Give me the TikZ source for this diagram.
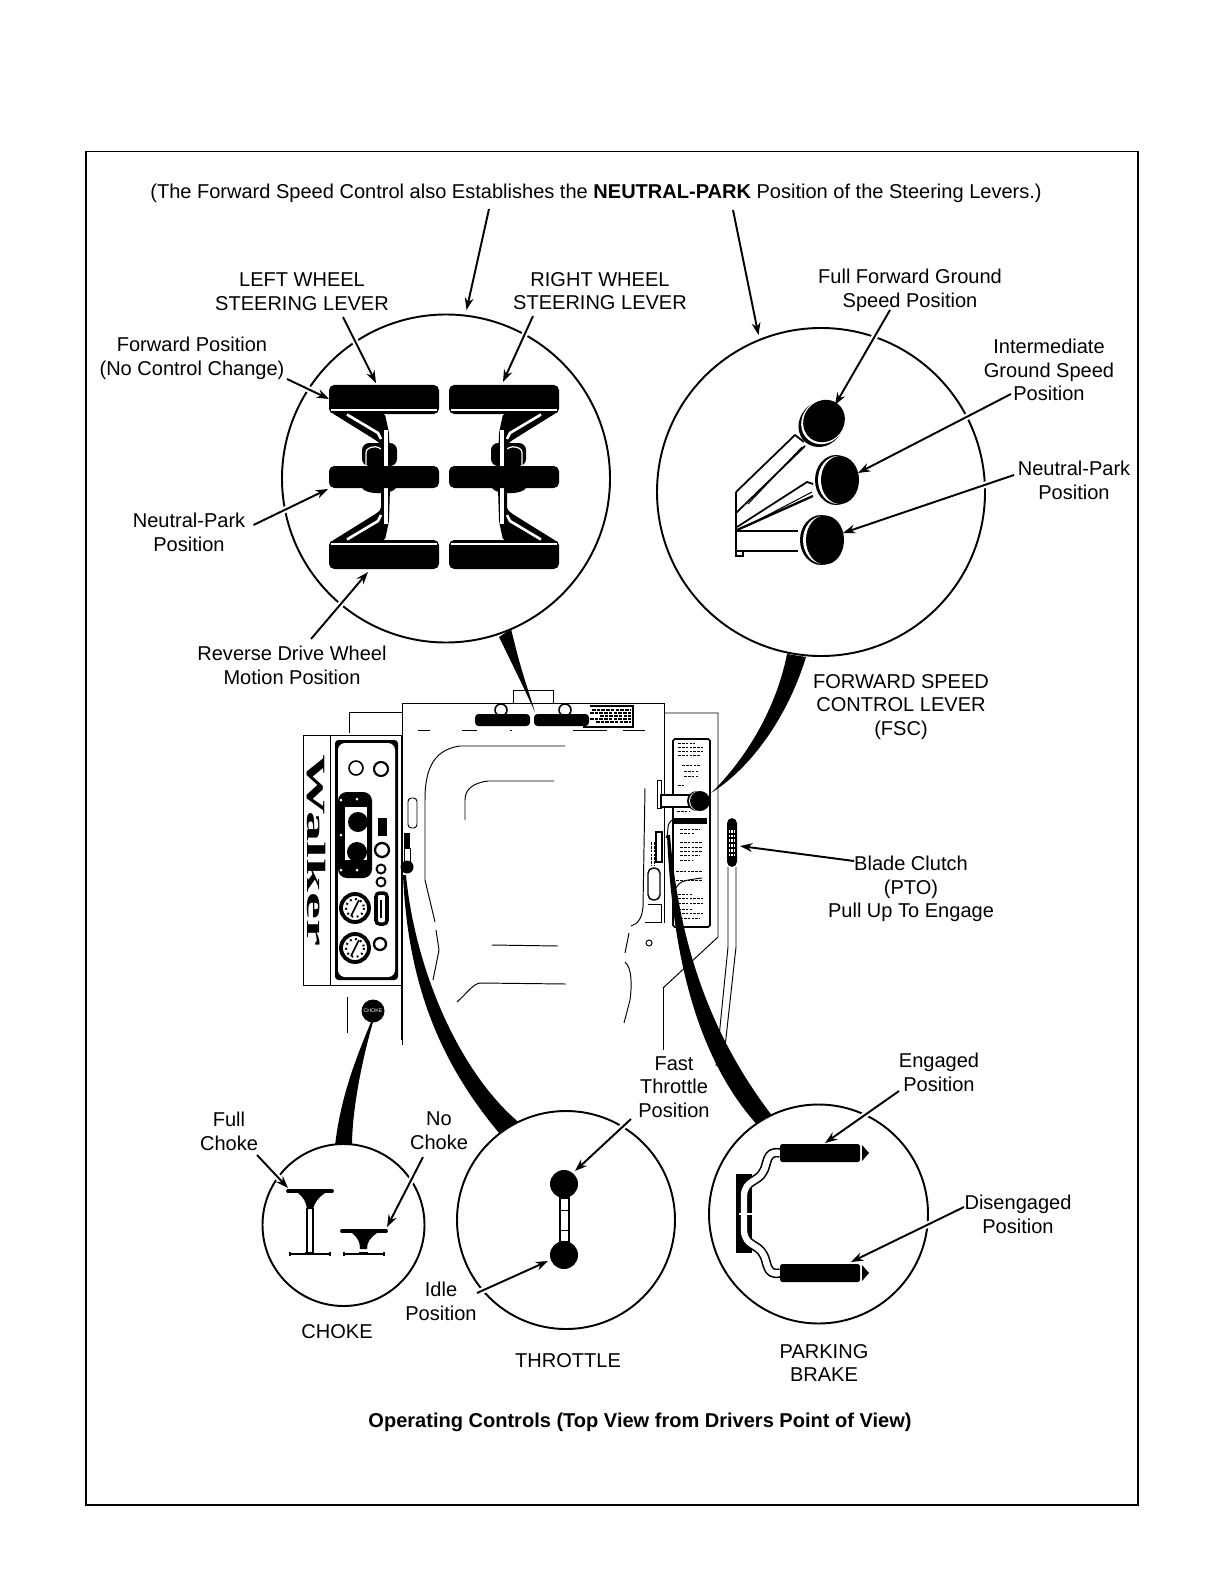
\documentclass[tikz,border=0pt]{standalone}
\usepackage{fontspec}
\setmainfont{Liberation Sans}
\newfontfamily\logofont{Liberation Serif}
\usetikzlibrary{arrows.meta}
\tikzset{
  lbl/.style={align=center, inner sep=0pt, font=\fontsize{11.4}{13.5}\selectfont},
  ring/.style={draw, fill=white, line width=1.1pt},
  callout/.style={line width=1.1pt, -{Stealth[length=7pt,width=5pt]}, preaction={draw=white, line width=3.6pt, -}},
  thin line/.style={line width=0.55pt},
  fine print/.style={line width=0.45pt, dash pattern=on 1.5pt off 0.7pt},
  tail/.style={fill=black}
}
\begin{document}
\begin{tikzpicture}[x=0.02cm, y=-0.02cm]
    \useasboundingbox (0,0) rectangle (1224,1584);
    % Outer frame
    \draw[line width=0.6pt] (86,151.5) rectangle (1138,1505);

    % Mower body
    \draw[thin line] (402,1045) -- (402,703) -- (664,703) -- (664,923);
    \draw[thin line] (663,987) -- (663,1050);
    \draw[thin line] (349,733) -- (349,712) -- (402,712);
    \draw[thin line] (664,713) -- (718,713) -- (718,937) -- (663,988);
    \draw[thin line] (513,703) -- (513,690) -- (553,690) -- (553,703);
    \foreach \xa/\xb in {418/430, 462/477, 510/512, 573/607, 623/645}
        \draw[thin line] (\xa,730) -- (\xb,730);

    % Steering levers on the body
    \draw[line width=0.9pt] (501,710) circle [radius=6];
    \draw[line width=0.9pt] (565,710) circle [radius=6];
    \fill[rounded corners=2pt] (475,714) rectangle (530,726);
    \fill[rounded corners=2pt] (534,714) rectangle (589,726);
    \draw[line width=0.9pt] (583,727) -- (633,727) -- (633,706) -- (590,706);
    \foreach \yy/\xa in {710/592, 713/590, 716/600, 719/590, 722/596}
        \draw[line width=0.8pt, dash pattern=on 2pt off 0.7pt] (\xa,\yy) -- (631,\yy);

    % Seat lines
    \draw[thin line] (565,746) -- (460,746) .. controls (430,750) and (425,775) .. (425,800) -- (425,880) -- (435,922);
    \draw[thin line] (436,930) -- (439,950) -- (433,980);
    \draw[thin line] (554,781) -- (488,781) .. controls (472,783) and (465,790) .. (465,800) -- (465,820);
    \draw[thin line] (492,945) -- (558,946);
    \draw[thin line] (457,1002) .. controls (468,992) and (473,984) .. (480,983) -- (566,984);
    \draw[thin line] (645,788) -- (643,907) .. controls (642,918) and (638,924) .. (631,926);
    \draw[thin line] (629,933) -- (625,953);
    \draw[thin line] (625,962) .. controls (632,968) and (632,985) .. (630,1000) -- (624,1023);
    \draw[thin line] (649,943) circle [radius=3];
    \draw[thin line] (648,904) -- (661,904) -- (661,922) -- (645,922);

    % Dash panel
    \draw[thin line] (303,735) rectangle (401,985);
    \draw[thin line] (330,735) -- (330,985);
    \draw[thin line] (401,985) -- (401,1040);
    \draw[thin line] (347,997) -- (347,1033);
    \node[rotate=-90, inner sep=0pt, font=\logofont\bfseries\fontsize{15}{15}\selectfont] (logo) at (316,850) {\scalebox{2.3}[1]{Walker}};
    \fill[rounded corners=2pt] (335,740) rectangle (398,980);
    \fill[white, rounded corners=4pt] (338,743) rectangle (395,977);
    \fill[rounded corners=5pt] (338,792) rectangle (372,878);
    \fill[white] (345,807) rectangle (367,860);
    \fill (358,822) circle [radius=10];
    \fill (357,852) circle [radius=10];
    \foreach \px/\py in {341/800, 341/835, 357/799, 357/870, 341/870}
        \fill[white] (\px,\py) circle [radius=1.5];
    \draw[line width=0.9pt] (356,768) circle [radius=7];
    \draw[line width=1.2pt] (381,769) circle [radius=7];
    \fill (378,818) rectangle (387,836);
    \draw[line width=1.3pt] (382,850) circle [radius=7];
    \draw[line width=1.1pt] (381,869) circle [radius=4.5];
    \draw[line width=1.1pt] (381,882) circle [radius=4.5];
    \draw[line width=2pt, rounded corners=2pt] (376,893) rectangle (387,924);
    \draw[line width=1pt] (381,900) -- (381,918);
    \foreach \cy in {908,948} {
        \draw[line width=2.2pt] (355,\cy) circle [radius=14];
        \draw[line width=1pt] (351,\cy+8) -- (359,\cy-8);
        \draw[line width=1.2pt, dash pattern=on 1pt off 2pt] (355,\cy) circle [radius=9];
    }
    \draw[line width=1.3pt] (380,944) circle [radius=6];

    % Throttle on the body
    \draw[thin line, rounded corners=2pt] (408,798) rectangle (417,828);
    \fill (404,833) rectangle (410,848);
    \draw[thin line] (404,848) rectangle (410,863);

    % Forward speed lever on the body
    \draw[rounded corners=1pt, line width=0.9pt] (673,739) rectangle (710,927);
    \foreach \yy/\xa/\xb in {743/678/695, 747/678/703, 751/678/703, 755/678/700, 765/682/700, 771/684/698, 776/684/698, 785/678/684, 811/677/690, 829/680/700, 833/680/695, 842/680/702, 847/680/702, 851/680/702, 855/680/700, 860/680/692, 871/676/703, 880/676/703, 894/678/692, 898/678/703, 903/678/703, 909/678/692, 913/678/703, 918/680/700}
        \draw[fine print] (\xa,\yy) -- (\xb,\yy);
    \draw[thin line] (676,888) .. controls (680,880) and (688,880) .. (702,878);
    \fill (673,818) rectangle (707,824);
    \draw[thin line, fill=white] (657,780) rectangle (661,808);
    \draw[line width=0.9pt, fill=white] (661,795) rectangle (690,807);
    \fill (697,801) circle [radius=10];
    \fill[white] (699,801) circle [radius=10];
    \fill (700,801) circle [radius=10];

    % Parking brake on the body
    \draw[line width=0.8pt, rounded corners=3pt] (648,868) rectangle (660,900);
    \draw[line width=0.9pt] (656,832) rectangle (662,862);
    \draw[fine print] (651,842) -- (651,866) (654,842) -- (654,866);
    \draw[thin line] (666,838) .. controls (670,830) and (665,826) .. (672,820);

    % Blade clutch handle
    \draw[thin line] (728,867) -- (728,947) -- (718,1047) -- (716,1066);
    \draw[thin line] (736,867) -- (736,947) -- (725,1047);
    \fill[rounded corners=3pt] (727,818) rectangle (737,867);
    \foreach \xx in {729.5,732,734.5}
        \draw[white, line width=0.9pt, dash pattern=on 1.5pt off 1.2pt] (\xx,830) -- (\xx,857);

    % Choke knob on the body
    \fill (373,1011) circle [radius=11.5];
    \node[white, inner sep=0pt, font=\fontsize{3}{3}\selectfont] (chokeTag) at (373,1011) {CHOKE};

    % Tails from the detail circles to the body
    \fill[tail] (499,637) -- (511,629) .. controls (520,665) .. (535,712) .. controls (520,680) .. (499,637);
    \fill[tail] (787,654) .. controls (775,715) and (740,765) .. (711,793) .. controls (745,772) and (785,725) .. (806,657);
    \fill (407,867) circle [radius=6.5];
    \fill[tail] (403,875) .. controls (408,985) and (440,1065) .. (505,1140) -- (522,1125) .. controls (460,1075) and (415,970) .. (406,875);
    \fill[tail] (667,835) .. controls (672,950) and (695,1060) .. (762,1130) -- (777,1122) .. controls (720,1050) and (680,960) .. (670,835);
    \fill[tail] (371,1022) .. controls (355,1060) and (340,1100) .. (335,1146) -- (352,1146) .. controls (352,1110) and (362,1060) .. (373,1022);

    % Detail circles
    \draw[ring] (446,478.5) circle [radius=164];
    \draw[ring] (821,492) circle [radius=164];
    \draw[ring] (343.5,1225) circle [radius=81];
    \draw[ring] (566,1220) circle [radius=109];
    \draw[ring] (818.5,1214) circle [radius=109.5];

    % Arrow ends
    \coordinate (topA) at (489,209);    \coordinate (topB) at (466.5,310);
    \coordinate (topC) at (733,210);    \coordinate (topD) at (758.5,335);
    \coordinate (lwA) at (343,317);     \coordinate (lwB) at (376,383);
    \coordinate (rwA) at (533,316);     \coordinate (rwB) at (503,382);
    \coordinate (fpA) at (287,379);     \coordinate (fpB) at (329,399);
    \coordinate (npA) at (253.5,525);   \coordinate (npB) at (328,489);
    \coordinate (rvA) at (311,639);     \coordinate (rvB) at (368,572);
    \coordinate (ffA) at (890,310);     \coordinate (ffB) at (835,405);
    \coordinate (igA) at (1011,394);    \coordinate (igB) at (858,473);
    \coordinate (nrA) at (1014,475);    \coordinate (nrB) at (843,533);
    \coordinate (bcA) at (854,861);     \coordinate (bcB) at (740,846);
    \coordinate (fcA) at (257,1155);    \coordinate (fcB) at (288,1188);
    \coordinate (ncA) at (423,1157);    \coordinate (ncB) at (387,1227);
    \coordinate (ftA) at (631,1119);    \coordinate (ftB) at (575,1171);
    \coordinate (idA) at (477,1293);    \coordinate (idB) at (548,1261);
    \coordinate (enA) at (899,1091);    \coordinate (enB) at (825,1143);
    \coordinate (dsA) at (964,1207);    \coordinate (dsB) at (851,1262);

    % Arrows
    \foreach \a/\b in {topA/topB, topC/topD, lwA/lwB, rwA/rwB, fpA/fpB, npA/npB, rvA/rvB, ffA/ffB, igA/igB, nrA/nrB, bcA/bcB, fcA/fcB, ncA/ncB, ftA/ftB, idA/idB, enA/enB, dsA/dsB}
        \draw[callout] (\a) -- (\b);

    % Steering levers, detail
    \foreach \sx in {1,-1} {
        \begin{scope}[shift={(444,477)}, xscale=\sx]
            \fill[rounded corners=4pt] (-82,-34) rectangle (-47,-11);
            \draw[white, line width=0.7pt, rounded corners=2pt] (-78,-11) -- (-78,-28) -- (-68,-31) -- (-63,-28);
            \fill (-82,11) .. controls (-78,18) and (-52,18) .. (-48,11) -- cycle;
        \end{scope}
    }
    \foreach \sx in {1,-1} \foreach \sy in {1,-1} {
        \begin{scope}[shift={(444,477)}, xscale=\sx, yscale=\sy]
            \fill[rounded corners=3pt] (-115,-92) rectangle (-5,-63);
            \draw[white, line width=0.8pt] (-113,-67) -- (-7,-67);
            \fill[rounded corners=1pt] (-112,-64) -- (-59,-63) -- (-55,-44) -- (-54,-11) -- (-63,-11) -- (-63,-32) -- (-67,-36) -- cycle;
            \draw[white, line width=1.5pt] (-97,-62.5) -- (-66,-44) -- (-63,-38);
            \draw[white, line width=2.4pt] (-58,-47) -- (-58,-11);
        \end{scope}
    }
    \fill[rounded corners=3pt] (329,466) rectangle (439,488);
    \fill[rounded corners=3pt] (449,466) rectangle (559,488);

    % Ground speed levers, detail
    \draw[line width=1pt] (736,492) -- (736,556) -- (743,556) -- (743,551);
    \draw[line width=1pt] (736,492) -- (795,435) -- (804,442);
    \draw[line width=1pt] (736,513) -- (805,446);
    \draw[line width=0.6pt] (748,504) -- (802,447);
    \draw[line width=1pt] (737,527) -- (807,482) -- (813,484);
    \draw[line width=1.3pt] (737,530) -- (813,496);
    \draw[line width=0.6pt] (745,527) -- (812,492);
    \draw[line width=1pt] (736,531) -- (798,531);
    \draw[line width=1pt] (736,551) -- (798,551);
    % knobs
    \fill[rotate around={-40:(821,424)}] (821,424) ellipse [x radius=21.5, y radius=24];
    \fill[white, rotate around={-40:(823,422)}] (823,422) ellipse [x radius=21, y radius=23];
    \fill[rotate around={-40:(824,421)}] (824,421) ellipse [x radius=20, y radius=22];
    \fill (836,480) ellipse [x radius=21, y radius=25];
    \fill[white] (838,480) ellipse [x radius=20, y radius=24];
    \fill (840,480) ellipse [x radius=19, y radius=24];
    \fill (821,540) ellipse [x radius=21, y radius=25];
    \fill[white] (823,540) ellipse [x radius=20, y radius=24];
    \fill (825,540) ellipse [x radius=19, y radius=24.5];

    % Choke, detail
    \fill (298,1193) .. controls (304,1198) and (306,1202) .. (307,1209) -- (313,1209) .. controls (315,1202) and (318,1198) .. (325,1193) -- cycle;
    \draw[line width=2.2pt, line cap=round] (288,1191) -- (332,1191);
    \draw[line width=0.6pt] (307,1208) -- (307,1253) (313,1208) -- (313,1253);
    \fill (305,1252) rectangle (314,1255);
    \draw[line width=0.6pt] (289,1254) -- (331,1254) (290,1252) -- (290,1256) (330,1252) -- (330,1256);
    \fill (352,1233) .. controls (358,1238) and (360,1242) .. (360,1249) -- (367,1249) .. controls (367,1242) and (370,1238) .. (377,1233) -- cycle;
    \draw[line width=2.2pt, line cap=round] (342,1231) -- (386,1231);
    \fill (359,1252) rectangle (368,1255);
    \draw[line width=0.6pt] (343,1254) -- (385,1254) (344,1252) -- (344,1256) (384,1252) -- (384,1256);

    % Throttle, detail
    \draw[line width=0.9pt] (560,1198) rectangle (569,1242);
    \draw[line width=0.5pt] (560,1210) -- (569,1210) (560,1230) -- (569,1230);
    \fill (564,1184) circle [radius=14];
    \fill (564,1255) circle [radius=14];

    % Parking brake, detail
    \fill (736,1174) rectangle (752,1253);
    \foreach \sy/\yb in {1/1153, -1/1273} {
        \begin{scope}[shift={(0,1213)}, yscale=\sy]
            \draw[line width=0.9pt, double=white, double distance=3.6pt] (780,-60) .. controls (765,-63) and (768,-48) .. (763,-41) .. controls (758,-31) and (745,-33) .. (744,-18) -- (744,0);
        \end{scope}
        \fill[rounded corners=1pt] (780,\yb-9) rectangle (860,\yb+9);
        \fill (862,\yb-8) -- (869,\yb) -- (862,\yb+8) -- cycle;
    }
    \draw[white, line width=0.7pt] (739,1214) -- (752,1214);

    % Labels
    \node[lbl] (topnote) at (596,193) {(The Forward Speed Control also Establishes the \textbf{NEUTRAL-PARK} Position of the Steering Levers.)};
    \node[lbl] (lw) at (302,292) {LEFT WHEEL\\STEERING LEVER};
    \node[lbl] (rw) at (600,291) {RIGHT WHEEL\\STEERING LEVER};
    \node[lbl] (fp) at (192,358) {Forward Position\\(No Control Change)};
    \node[lbl] (ff) at (910,290) {Full Forward Ground\\Speed Position};
    \node[lbl] (ig) at (1049,370) {Intermediate\\Ground Speed\\Position};
    \node[lbl] (nr) at (1074,480) {Neutral-Park\\Position};
    \node[lbl] (np) at (189,532) {Neutral-Park\\Position};
    \node[lbl] (rv) at (292,665) {Reverse Drive Wheel\\Motion Position};
    \node[lbl] (fsc) at (901,707) {FORWARD SPEED\\CONTROL LEVER\\(FSC)};
    \node[lbl] (bc) at (911,889) {Blade Clutch\\(PTO)\\Pull Up To Engage};
    \node[lbl] (ft) at (674,1087) {Fast\\Throttle\\Position};
    \node[lbl] (en) at (939,1072) {Engaged\\Position};
    \node[lbl] (fc) at (229,1131) {Full\\Choke};
    \node[lbl] (nc) at (439,1131) {No\\Choke};
    \node[lbl] (ds) at (1018,1214) {Disengaged\\Position};
    \node[lbl] (id) at (441,1301) {Idle\\Position};
    \node[lbl] (ch) at (337,1332) {CHOKE};
    \node[lbl] (th) at (568,1361) {THROTTLE};
    \node[lbl] (pb) at (824,1363) {PARKING\\BRAKE};
    \node[lbl, font=\fontsize{11.4}{13.5}\selectfont\bfseries] (cap) at (640,1422) {Operating Controls (Top View from Drivers Point of View)};
\end{tikzpicture}
\end{document}
